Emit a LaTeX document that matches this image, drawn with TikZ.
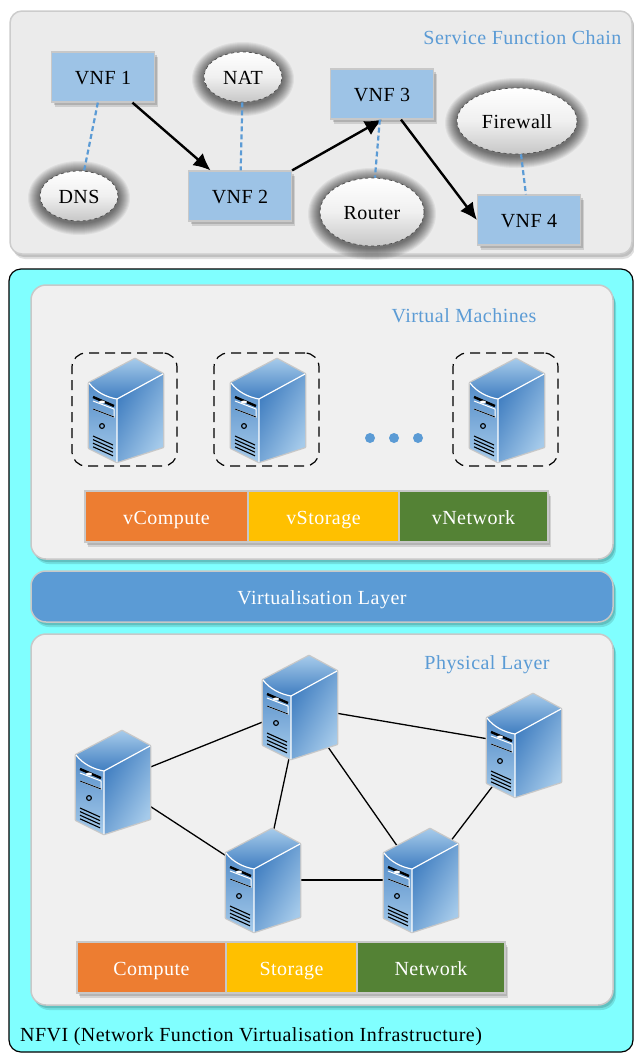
\documentclass[tikz,border=0pt]{standalone}
\usepackage{fontspec}
\setmainfont[LetterSpace=2.4]{Liberation Serif}
\usetikzlibrary{arrows.meta,shadows,shapes.geometric}
\definecolor{panelgray}{HTML}{F0F0F0}
\definecolor{chaingray}{HTML}{EBEBEB}
\definecolor{edgegray}{HTML}{C8C8C8}
\definecolor{titleblue}{HTML}{5B9BD5}
\definecolor{vnfblue}{HTML}{9DC3E6}
\definecolor{nfvicyan}{HTML}{80FFFF}
\definecolor{barorange}{HTML}{ED7D31}
\definecolor{baryellow}{HTML}{FFC000}
\definecolor{bargreen}{HTML}{548235}
\definecolor{srvdark}{HTML}{3F7DC0}
\definecolor{srvlight}{HTML}{A5CAEA}

\begin{document}
\begin{tikzpicture}[
        x=1pt, y=-1pt,
        every node/.style={font=\fontsize{20}{24}\selectfont, text height=15pt, text depth=0pt},
        softshadow/.style={drop shadow={shadow xshift=3pt, shadow yshift=-5pt, opacity=.12, fill=black},
            drop shadow={shadow xshift=2pt, shadow yshift=-3pt, opacity=.14, fill=black}},
        panel/.style={rectangle, draw=edgegray, line width=1.5pt, fill=panelgray, rounded corners=15pt, softshadow},
        vnf/.style={rectangle, draw=edgegray, line width=1.2pt, fill=vnfblue, minimum width=103pt, minimum height=50pt, softshadow},
        func/.style={ellipse, draw=black!70, dashed, line width=.7pt, top color=white, bottom color=black!22, middle color=black!6},
        bar/.style={rectangle, draw=edgegray, line width=1.2pt, text=white, minimum height=51pt, softshadow},
        vmbox/.style={rectangle, draw, dashed, dash pattern=on 10pt off 6pt, line width=1.2pt, rounded corners=14pt, minimum width=105pt, minimum height=113pt},
        srvbox/.style={rectangle, minimum width=74pt, minimum height=104pt},
        title/.style={text=titleblue},
        link/.style={line width=1.3pt},
        chain/.style={-{Latex[length=17pt,width=16pt]}, line width=2.4pt},
        attach/.style={dashed, dash pattern=on 5pt off 3pt, line width=2.2pt, titleblue},
        srv/.pic={
            \draw[edgegray, line width=2.6pt, line join=round, fill=titleblue]
                (9,-51) -- (37,-36) -- (37,37) -- (-9,52) -- (-37,38) -- (-37,-27) -- cycle;
            \shade[top color=srvlight, bottom color=srvdark]
                (9,-51) -- (37,-36) -- (-9,-11) .. controls (-20,-13) and (-30,-18) .. (-37,-27) -- cycle;
            \shade[top color=srvdark!80!srvlight, bottom color=srvlight]
                (-9,-11) .. controls (-20,-13) and (-30,-18) .. (-37,-27) -- (-37,38) -- (-9,52) -- cycle;
            \shade[left color=srvdark, right color=srvlight, shading angle=60]
                (-9,-11) -- (37,-36) -- (37,37) -- (-9,52) -- cycle;
            \draw[white, line width=1.2pt] (-37,-27) .. controls (-30,-18) and (-20,-13) .. (-9,-11)
                -- (37,-36) (-9,-11) -- (-9,52);
            \draw[black, line width=2.4pt] (-33,-13) -- (-12,-4);
            \draw[white, line width=1pt] (-33,-9) -- (-12,-1) -- (-12,7) -- (-33,-1);
            \draw[black, line width=.8pt] (-33,-1) -- (-12,7);
            \fill[white] (-24,-8) ellipse (3 and 1.5);
            \draw[black, line width=1.1pt] (-24,16) circle (2.4);
            \foreach \k in {0,1,2,3}
                \draw[black, line width=1.1pt] (-33,{26+3.6*\k}) -- (-13,{35+3.6*\k});
        }
    ]
    \useasboundingbox (0,0) rectangle (633,1053);

    % Panels
    \node[panel, draw=black!20, fill=chaingray, rounded corners=12pt, minimum width=622pt, minimum height=243pt] (chainpanel) at (321,132.5) {};
    \node[rectangle, draw=black, line width=1.2pt, fill=nfvicyan, rounded corners=12pt, minimum width=624pt, minimum height=783pt] (nfvi) at (321,660.5) {};
    \node[panel, minimum width=582pt, minimum height=274pt] (vmpanel) at (322,422) {};
    \node[panel, fill=titleblue, text=white, minimum width=582pt, minimum height=51pt] (virtlayer) at (322,596.5) {Virtualisation Layer};
    \node[panel, minimum width=582pt, minimum height=371pt] (phypanel) at (322,819.5) {};

    % Titles
    \node[title, anchor=east] (chaintitle) at (625,37) {Service Function Chain};
    \node[title] (vmtitle) at (464,315) {Virtual Machines};
    \node[title] (phytitle) at (487,662) {Physical Layer};
    \node[anchor=west, inner sep=0pt] (nfvititle) at (20,1034) {NFVI (Network Function Virtualisation Infrastructure)};

    % Service function chain
    \node[vnf] (vnf1) at (103,77) {VNF 1};
    \node[vnf] (vnf2) at (240,196) {VNF 2};
    \node[vnf] (vnf3) at (382,94) {VNF 3};
    \node[vnf] (vnf4) at (529,220) {VNF 4};
    \foreach \fname/\fx/\fy/\frx/\fry/\ftext in {nat/243/77/39/25/NAT, dns/79/196/39/25/DNS, router/372/212/52/34/Router, firewall/517/121/60/33/Firewall} {
        \foreach \g in {12,11,...,1}
            \fill[black, opacity=.055] (\fx,\fy+2) ellipse ({\frx+\g} and {\fry+\g});
        \node[func, minimum width=2*\frx pt, minimum height=2*\fry pt, inner sep=0pt] (\fname) at (\fx,\fy) {\ftext};
    }
    \draw[chain] (vnf1) -- (vnf2);
    \draw[chain] (vnf2.north east) -- (vnf3.south);
    \draw[chain] ([xshift=19pt]vnf3.south) -- (vnf4.west);
    \draw[attach] (vnf1) -- (dns);
    \draw[attach] (nat) -- (vnf2);
    \draw[attach] (vnf3) -- (router);
    \draw[attach] (firewall) -- (vnf4);

    % Virtual machines
    \node[vmbox] (vm1) at (124.5,409.5) {};
    \node[vmbox] (vm2) at (266.5,409.5) {};
    \node[vmbox] (vm3) at (505.5,409.5) {};
    \pic at (126,410) {srv};
    \pic at (268,410) {srv};
    \pic at (507,410) {srv};
    \foreach \dx in {370,394,418}
        \fill[titleblue] (\dx,438) circle (5);
    \node[bar, fill=barorange, minimum width=163pt] (vcompute) at (166.5,516.5) {vCompute};
    \node[bar, fill=baryellow, minimum width=151pt] (vstorage) at (323.5,516.5) {vStorage};
    \node[bar, fill=bargreen, minimum width=149pt] (vnetwork) at (473.5,516.5) {vNetwork};

    % Physical layer
    \node[srvbox] (host1) at (113,782) {};
    \node[srvbox] (host2) at (300,707) {};
    \node[srvbox] (host3) at (524,745) {};
    \node[srvbox] (host4) at (263,880) {};
    \node[srvbox] (host5) at (421,880) {};
    \draw[link] (host1.center) -- (host2.center);
    \draw[link] (host1.center) -- (host4.center);
    \draw[link] (host2.center) -- (host3.center);
    \draw[link] (host2.center) -- (host4.center);
    \draw[link] (host2.center) -- (host5.center);
    \draw[link] (host4.center) -- (host5.center);
    \draw[link] (host5.center) -- (host3.center);
    \foreach \h in {host1,host2,host3,host4,host5}
        \pic at (\h) {srv};
    \node[bar, fill=barorange, minimum width=149pt] (compute) at (151.5,967.5) {Compute};
    \node[bar, fill=baryellow, minimum width=131pt] (storage) at (291.5,967.5) {Storage};
    \node[bar, fill=bargreen, minimum width=148pt] (network) at (431,967.5) {Network};

\end{tikzpicture}
\end{document}
